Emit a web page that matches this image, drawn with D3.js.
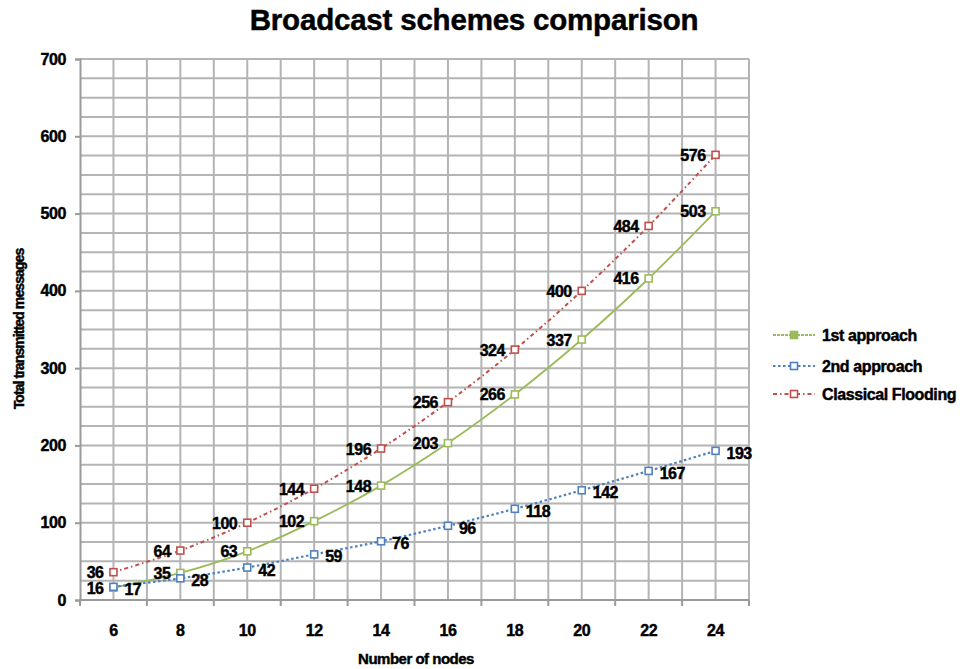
<!DOCTYPE html>
<html>
<head>
<meta charset="utf-8">
<script src="https://cdn.jsdelivr.net/npm/d3@7"></script>
<style>
  html, body { margin: 0; padding: 0; background: #fff; }
  svg text { font-family: "Liberation Sans", Arial, sans-serif; font-weight: bold; fill: #000; stroke: #000; stroke-width: 0.45px; }
</style>
</head>
<body>
<svg id="chart" width="960" height="669"></svg>
<script>
// Number of nodes in the network
const nodes = [6, 8, 10, 12, 14, 16, 18, 20, 22, 24];
// Total transmitted messages per scheme
const firstApproach = [16, 35, 63, 102, 148, 203, 266, 337, 416, 503];
const secondApproach = [17, 28, 42, 59, 76, 96, 118, 142, 167, 193];
const classicalFlooding = [36, 64, 100, 144, 196, 256, 324, 400, 484, 576];
const yTicks = [0, 100, 200, 300, 400, 500, 600, 700];
const seriesNames = ["1st approach", "2nd approach", "Classical Flooding"];

const series = [
  { name: seriesNames[0], values: firstApproach, color: "#9bbb59", dash: null, width: 1.8, labelSide: "left" },
  { name: seriesNames[1], values: secondApproach, color: "#4f81bd", dash: "2.5,2.5", width: 2.2, labelSide: "right" },
  { name: seriesNames[2], values: classicalFlooding, color: "#c0504d", dash: "4,3,1.5,3", width: 2, labelSide: "left" }
];

const svg = d3.select("#chart");
const plot = { left: 80, right: 749, top: 59, bottom: 600 };

const x = d3.scaleBand().domain(nodes).range([plot.left, plot.right]).paddingInner(0).paddingOuter(0);
const y = d3.scaleLinear().domain([0, 700]).range([plot.bottom, plot.top]);
const cx = d => x(d) + x.bandwidth() / 2;

// Gridlines: horizontal every 25, vertical at band edges and centres
const grid = svg.append("g").attr("stroke", "#b4b4b4").attr("stroke-width", 2);
d3.range(25, 701, 25).forEach(v => {
  grid.append("line").attr("x1", plot.left).attr("x2", plot.right).attr("y1", y(v)).attr("y2", y(v));
});
const halfStep = x.bandwidth() / 2;
d3.range(1, nodes.length * 2 + 1).forEach(k => {
  const px = plot.left + k * halfStep;
  grid.append("line").attr("x1", px).attr("x2", px).attr("y1", plot.top).attr("y2", plot.bottom);
});

// Y axis
const yAxis = svg.append("g").attr("transform", `translate(${plot.left},0)`)
  .call(d3.axisLeft(y).tickValues(yTicks).tickSize(5).tickPadding(9));
yAxis.select(".domain").attr("stroke", "#9a9a9a").attr("stroke-width", 2);
yAxis.selectAll(".tick line").attr("stroke", "#9a9a9a").attr("stroke-width", 2);
yAxis.selectAll(".tick text").style("font-size", "16px").style("letter-spacing", "-0.4px");

// X axis: tick marks at category boundaries, labels at centres
const xAxisG = svg.append("g").attr("transform", `translate(0,${plot.bottom})`);
xAxisG.append("line").attr("x1", plot.left).attr("x2", plot.right).attr("stroke", "#9a9a9a").attr("stroke-width", 2);
d3.range(0, nodes.length + 1).forEach(k => {
  const px = plot.left + k * x.bandwidth();
  xAxisG.append("line").attr("x1", px).attr("x2", px).attr("y1", 0).attr("y2", 6)
    .attr("stroke", "#9a9a9a").attr("stroke-width", 2);
});
xAxisG.selectAll("text.xl").data(nodes).join("text").attr("class", "xl")
  .attr("x", d => cx(d)).attr("y", 36).attr("text-anchor", "middle")
  .style("font-size", "16px").style("letter-spacing", "-0.4px").text(d => d);

// Title and axis titles
svg.append("text").attr("x", 474).attr("y", 30).attr("text-anchor", "middle")
  .style("font-size", "29.5px").style("letter-spacing", "-0.2px").text("Broadcast schemes comparison");
svg.append("text").attr("x", 416).attr("y", 664).attr("text-anchor", "middle")
  .style("font-size", "15px").style("letter-spacing", "-0.5px").text("Number of nodes");
svg.append("text").attr("transform", "translate(24,329) rotate(-90)").attr("text-anchor", "middle")
  .style("font-size", "14px").style("letter-spacing", "-0.9px").text("Total transmitted messages");

// Series lines and markers
const line = d3.line().x((d, i) => cx(nodes[i])).y(d => y(d)).curve(d3.curveCatmullRom.alpha(0.5));
series.forEach(s => {
  svg.append("path").datum(s.values).attr("d", line).attr("fill", "none")
    .attr("stroke", s.color).attr("stroke-width", s.width)
    .attr("stroke-dasharray", s.dash);
  svg.selectAll(null).data(s.values).join("rect")
    .attr("x", (d, i) => cx(nodes[i]) - 3.5).attr("y", d => y(d) - 3.5)
    .attr("width", 7).attr("height", 7)
    .attr("fill", "#fff").attr("stroke", s.color).attr("stroke-width", 1.6);
});

// Data labels
series.forEach(s => {
  svg.selectAll(null).data(s.values).join("text")
    .attr("x", (d, i) => s.labelSide === "left" ? cx(nodes[i]) - 10 : cx(nodes[i]) + 11)
    .attr("y", d => y(d) + (s.labelSide === "right" ? 8 : 6))
    .attr("text-anchor", s.labelSide === "left" ? "end" : "start")
    .style("font-size", "16px").style("letter-spacing", "-0.5px")
    .text(d => d);
});

// Legend
const legend = svg.append("g");
const legendY = [335, 366, 394];
series.forEach((s, i) => {
  const g = legend.append("g").attr("transform", `translate(773,${legendY[i]})`);
  g.append("line").attr("x1", 0).attr("x2", 42).attr("stroke", s.color)
    .attr("stroke-width", s.width).attr("stroke-dasharray", s.dash || "3,1");
  g.append("rect").attr("x", 17.5).attr("y", -3.5).attr("width", 7).attr("height", 7)
    .attr("fill", i === 0 ? s.color : "#fff").attr("stroke", s.color).attr("stroke-width", 1.6);
  g.append("text").attr("x", 49).attr("y", 6).style("font-size", "16px")
    .style("letter-spacing", "-0.4px").text(s.name);
});
</script>
</body>
</html>
